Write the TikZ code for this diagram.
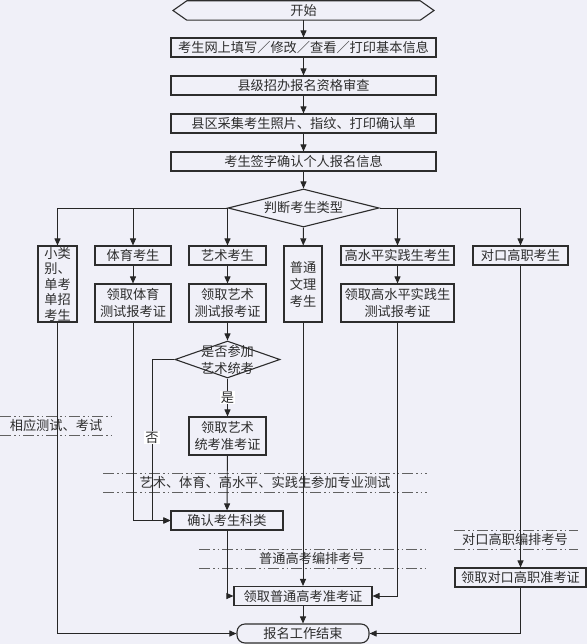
\documentclass[tikz,border=0pt]{standalone}
\usepackage{fontspec}
\newfontfamily\cjk{Noto Sans CJK SC}
\usetikzlibrary{arrows.meta,shapes.geometric}
\definecolor{paper}{RGB}{240,240,248}
\definecolor{ink}{RGB}{45,45,45}
\def\cjkfont{\cjk\fontsize{13.2}{17}\selectfont}
\tikzset{
	sz/.style 2 args={minimum width=#1, minimum height=#2},
	box/.style={draw=ink, line width=1.1pt, inner sep=0pt, align=center, font=\cjkfont, text=ink},
	txt/.style={inner sep=0pt, align=center, font=\cjkfont, text=ink},
	decision/.style={draw=ink, line width=1.1pt, diamond, inner sep=0pt},
	conn/.style={line width=0.9pt, draw=black!85, -{Triangle[length=7pt,width=6pt]}},
	band/.style={line width=1pt, draw=ink!75, dash pattern=on 11pt off 3pt on 1.5pt off 3pt on 1.5pt off 3pt},
	yes/.style={fill=white, inner sep=1pt, font=\cjkfont, text=ink},
}
\begin{document}
\begin{tikzpicture}[x=1pt, y=-1pt]
			%%%%% START %%%%%
			\useasboundingbox (0,0) rectangle (587,644);
			\fill[paper] (0,0) rectangle (587,644);
			
			\node[txt, sz={233}{19}] (start) at (303.5,10.5) {开始};
			\draw[ink, line width=1.1pt] (start.north west) -- (start.north east) -- (434,10.5) -- (start.south east) -- (start.south west) -- (173,10.5) -- cycle;
			
			\node[box, sz={265}{19}] (info) at (303.5,47.5) {考生网上填写／修改／查看／打印基本信息};
			\node[box, sz={265}{19}] (audit) at (303.5,85.5) {县级招办报名资格审查};
			\node[box, sz={265}{19}] (photo) at (303.5,123.5) {县区采集考生照片、指纹、打印确认单};
			\node[box, sz={265}{19}] (sign) at (303.5,161.5) {考生签字确认个人报名信息};
			
			\node[decision, sz={151}{38}] (type) at (303.5,208) {};
			\node[txt] (typetext) at (type) {判断考生类型};
			
			\node[box, sz={39}{76}, font=\cjk\fontsize{13.2}{15.5}\selectfont] (small) at (57.5,284) {小类\\别、\\单考\\单招\\考生};
			\node[box, sz={76}{19}] (sport) at (133,255.5) {体育考生};
			\node[box, sz={76}{38}] (sportcard) at (133,303) {领取体育\\测试报考证};
			\node[box, sz={77}{19}] (art) at (227.5,255.5) {艺术考生};
			\node[box, sz={77}{38}] (artcard) at (227.5,303) {领取艺术\\测试报考证};
			\node[box, sz={38}{76}] (normal) at (303,284) {普通\\文理\\考生};
			\node[box, sz={113}{19}] (high) at (397.5,255.5) {高水平实践生考生};
			\node[box, sz={113}{38}] (highcard) at (397.5,303) {领取高水平实践生\\测试报考证};
			\node[box, sz={95}{19}] (voc) at (520.5,255.5) {对口高职考生};
			
			\node[decision, sz={105}{37}] (artq) at (227.5,359.5) {};
			\node[txt] (artqtext) at (artq) {是否参加\\艺术统考};
			\node[box, sz={77}{38}] (artexam) at (227.5,436) {领取艺术\\统考准考证};
			\node[box, sz={112}{19}] (confirm) at (227,520.5) {确认考生科类};
			\node[box, sz={138}{19}] (ticket) at (303,596) {领取普通高考准考证};
			\node[box, sz={131}{19}] (vocticket) at (520.5,577.5) {领取对口高职准考证};
			\node[box, sz={132}{19}, rounded corners=8pt] (finish) at (303,633.5) {报名工作结束};
			
			% bands
			\draw[band] (0,416) -- (115,416);
			\draw[band] (0,435) -- (115,435);
			\node[txt] (test) at (56,425.5) {相应测试、考试};
			\draw[band] (103,473) -- (427,473);
			\draw[band] (103,492) -- (427,492);
			\node[txt] (major) at (265,482.5) {艺术、体育、高水平、实践生参加专业测试};
			\draw[band] (199,549) -- (427,549);
			\draw[band] (199,568) -- (427,568);
			\node[txt] (number) at (312,558.5) {普通高考编排考号};
			\draw[band] (454,530) -- (578,530);
			\draw[band] (454,549) -- (578,549);
			\node[txt] (vocnumber) at (515,539.5) {对口高职编排考号};
			
			% connectors
			\draw[conn] (start) -- (info);
			\draw[conn] (info) -- (audit);
			\draw[conn] (audit) -- (photo);
			\draw[conn] (photo) -- (sign);
			\draw[conn] (sign) -- (type);
			
			\draw[conn] (type.west) -| (small);
			\draw[conn] (type.west) -| (sport);
			\draw[conn] (type.west) -| (art);
			\draw[conn] (type) -- (normal);
			\draw[conn] (type.east) -| (high);
			\draw[conn] (type.east) -| (voc);
			
			\draw[conn] (sport) -- (sportcard);
			\draw[conn] (art) -- (artcard);
			\draw[conn] (high) -- (highcard);
			\draw[conn] (artcard) -- (artq);
			\draw[conn] (artq) -- node[yes] {是} (artexam);
			\coordinate (nobend) at (152,359.5);
			\draw[conn] (artq.west) -- (nobend) |- node[yes, pos=0.243] {否} (confirm.west);
			\draw[conn] (sportcard) |- (confirm.west);
			\draw[conn] (artexam) -- (confirm);
			
			\draw[conn] (confirm) |- (ticket.west);
			\draw[conn] (normal) -- (ticket);
			\draw[conn] (highcard) |- (ticket.east);
			\draw[conn] (ticket) -- (finish);
			\draw[conn] (small) |- (finish.west);
			\draw[conn] (voc) -- (vocticket);
			\draw[conn] (vocticket) |- (finish.east);
			
			%%%%% END %%%%%
\end{tikzpicture}
\end{document}
